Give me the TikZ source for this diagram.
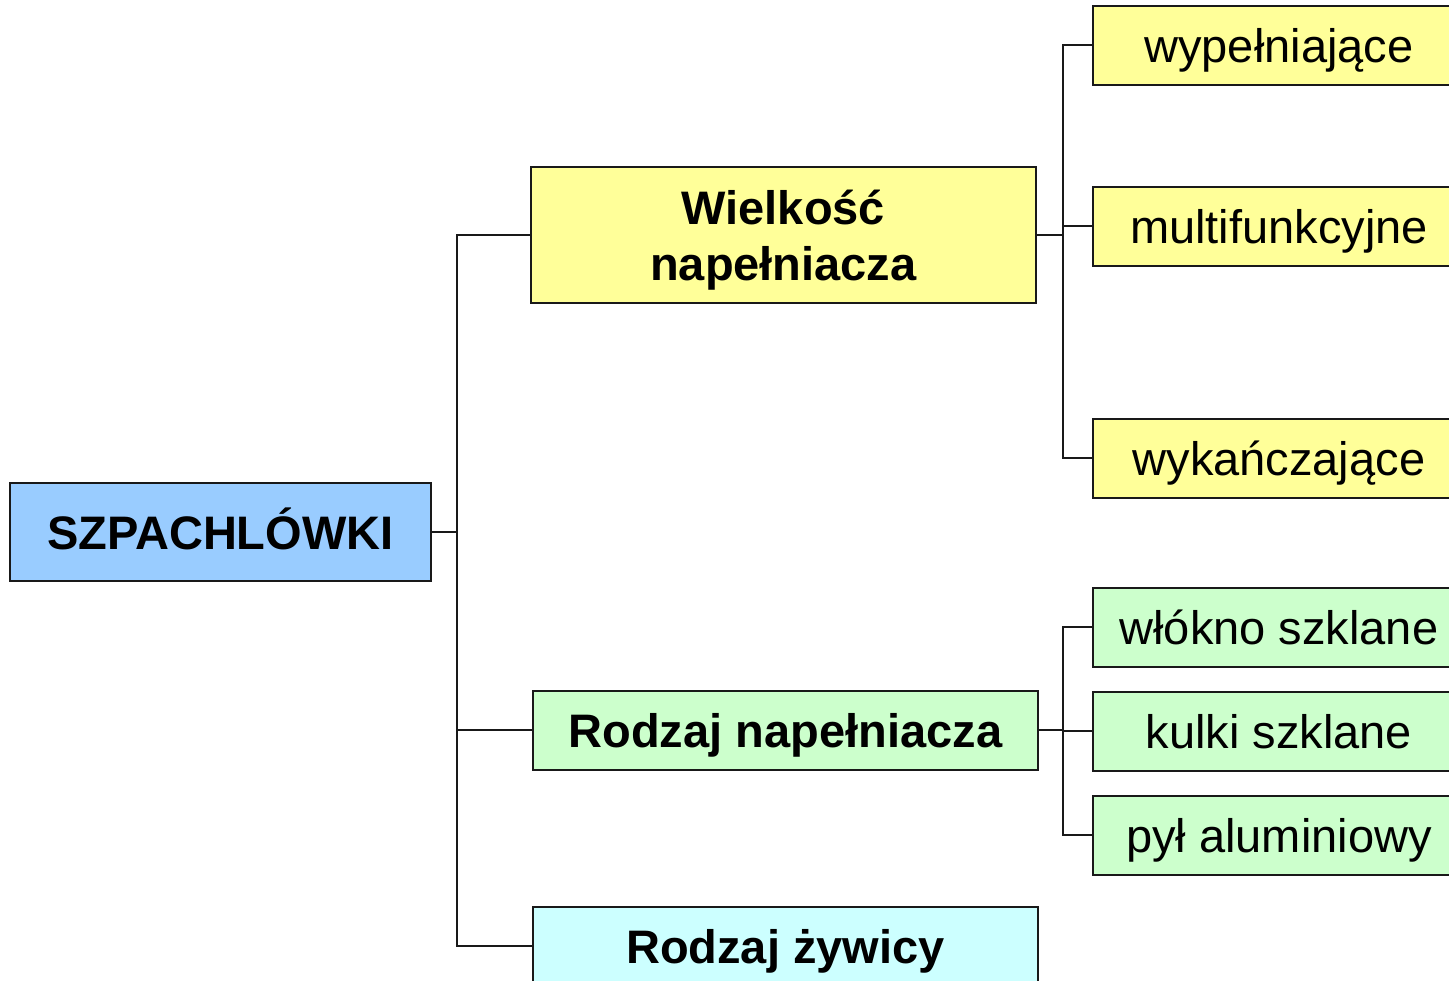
\documentclass[tikz,border=0pt]{standalone}
\usepackage{fontspec}
\setmainfont{Liberation Sans}
\begin{document}
\begin{tikzpicture}[x=1pt,y=-1pt,
  box/.style={draw=black!90, line width=1.8pt, rectangle, anchor=north west, inner sep=0pt,
    font=\fontsize{47}{56}\selectfont, align=center, text height=40pt, text depth=5pt},
  bbox/.style={box, font=\fontsize{47}{56}\selectfont\bfseries},
  leaf/.style={box, minimum width=372, minimum height=79},
  conn/.style={line width=1.9pt, black!90}]
\useasboundingbox (0,0) rectangle (1449,981);
\clip (0,0) rectangle (1449,981);
\definecolor{cblue}{HTML}{99CCFF}
\definecolor{cyel}{HTML}{FFFF99}
\definecolor{cgreen}{HTML}{CCFFCC}
\definecolor{ccyan}{HTML}{CCFFFF}
% main nodes
\node[bbox, fill=cblue, minimum width=421, minimum height=98] (sz) at (9,482) {SZPACHLÓWKI};
\node[bbox, fill=cyel, minimum width=505, minimum height=136, text height=96pt, text depth=5pt] (wn) at (530,166) {Wielkość\\napełniacza};
\node[bbox, fill=cgreen, minimum width=505, minimum height=79] (rn) at (532,690) {Rodzaj napełniacza};
\node[bbox, fill=ccyan, minimum width=505, minimum height=79] (rz) at (532,906) {Rodzaj żywicy};
% leaves
\node[leaf, fill=cyel] (l1) at (1092,5) {wypełniające};
\node[leaf, fill=cyel] (l2) at (1092,186) {multifunkcyjne};
\node[leaf, fill=cyel] (l3) at (1092,418) {wykańczające};
\node[leaf, fill=cgreen] (l4) at (1092,587) {włókno szklane};
\node[leaf, fill=cgreen] (l5) at (1092,691) {kulki szklane};
\node[leaf, fill=cgreen] (l6) at (1092,795) {pył aluminiowy};
% connectors
\draw[conn] (sz.east) -- ++(25,0) |- (wn.west);
\draw[conn] (sz.east) -- ++(25,0) |- (rn.west);
\draw[conn] (sz.east) -- ++(25,0) |- (rz.west);
\draw[conn] (wn.east) -- ++(26,0) |- (l1.west);
\draw[conn] (wn.east) -- ++(26,0) |- (l2.west);
\draw[conn] (wn.east) -- ++(26,0) |- (l3.west);
\draw[conn] (rn.east) -- ++(24,0) |- (l4.west);
\draw[conn] (rn.east) -- ++(24,0) |- (l5.west);
\draw[conn] (rn.east) -- ++(24,0) |- (l6.west);
\end{tikzpicture}
\end{document}
